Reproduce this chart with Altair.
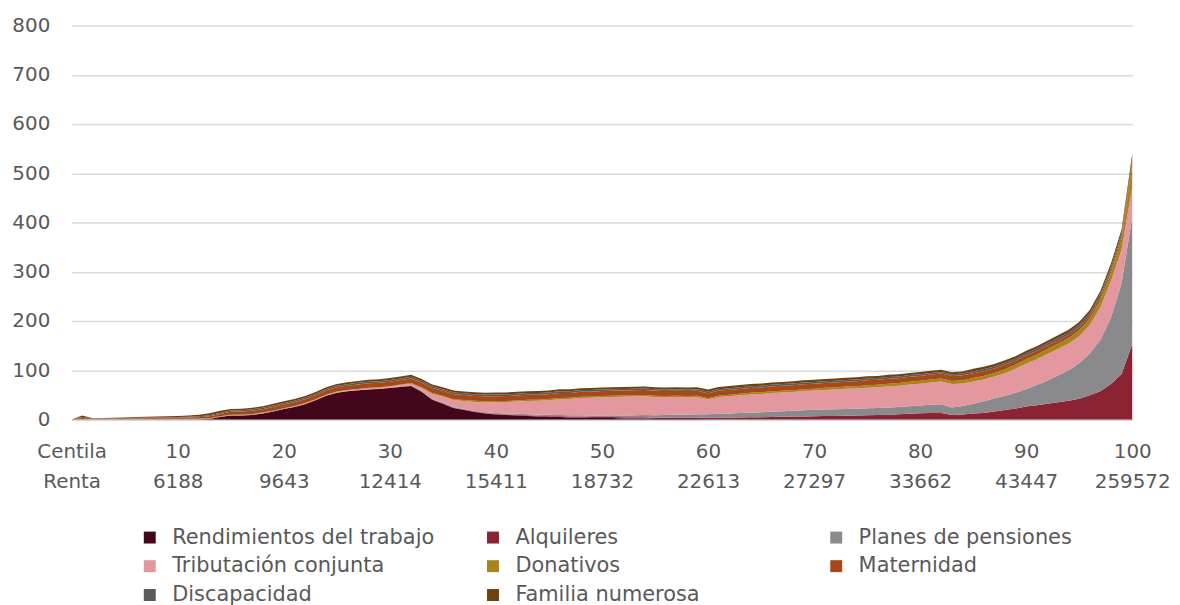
import altair as alt
import pandas as pd

# ---------------- data ----------------
centiles = list(range(101))

series_names = [
    "Rendimientos del trabajo", "Alquileres", "Planes de pensiones",
    "Tributación conjunta", "Donativos", "Maternidad",
    "Discapacidad", "Familia numerosa",
]
series_colors = ["#43061A", "#8B2332", "#8A8A8C", "#E3979F",
                 "#A8841A", "#A84817", "#5A5A5A", "#70400F"]

rendimientos = ([0] * 13 +
    [1, 5, 8, 8, 9, 12, 16, 21, 25, 31, 39, 48, 54, 57, 59, 61, 62, 64, 66, 68] +
    [56, 40, 32, 23, 19, 15, 12, 10, 9, 8, 7, 6, 5, 5, 4, 4, 3, 3, 3, 2, 2, 2,
     1, 1, 1, 1, 1, 0.5] +
    [0.5] * 10 + [0.3] * 10 + [0] * 20)

alquileres = ([0] + [0.2] * 30 +
    [0.5, 0.5, 0.5, 0.6, 0.7, 0.8, 0.9, 1, 1, 1] +
    [1.1, 1.2, 1.3, 1.4, 1.5, 1.6, 1.7, 1.8, 1.9, 2] +
    [2.1, 2.2, 2.3, 2.4, 2.5, 2.6, 2.7, 2.8, 2.9, 3] +
    [3.2, 3.4, 3.6, 3.8, 4.1, 4.4, 4.8, 5.2, 5.6, 6] +
    [6.4, 6.8, 7.2, 7.7, 8.2, 8.8, 9.4, 10, 11, 12] +
    [13, 13, 9, 10, 12, 13, 16, 19, 22, 26, 29, 32, 35, 38, 42, 49, 57, 72, 92, 153])

planes = ([0] + [0.3] * 30 +
    [0.8, 1, 1.1, 1.2, 1.3, 1.4, 1.5, 1.6, 1.8, 2] +
    [2.1, 2.2, 2.3, 2.4, 2.5, 2.6, 2.7, 2.8, 2.9, 3] +
    [3.4, 3.8, 4.2, 4.6, 5, 5.4, 5.8, 6.2, 6.6, 7] +
    [7.6, 8.2, 8.8, 9.4, 10, 10.6, 11.2, 11.8, 12.4, 13] +
    [13.2, 13.4, 13.6, 13.8, 14, 14.2, 14.6, 15, 15.5, 16] +
    [17, 18, 15, 17, 20, 24, 27, 29, 32, 36, 41, 47, 54, 62, 72, 85, 105, 135, 185, 258])

tributacion = ([0] +
    [0.3, 0.3, 0.3, 0.3, 0.4, 0.4, 0.4, 0.4, 0.5, 0.5, 0.5, 0.5, 0.6, 0.6, 0.6, 0.7,
     0.7, 0.8, 0.8, 0.9, 0.9, 1, 1, 1] +
    [1.5, 1.6, 1.8, 2, 2, 2.2, 2.5] +
    [3, 6, 10, 12, 14, 16, 18, 20, 22, 23, 25, 27, 28, 30, 32, 33, 35, 36, 37, 37,
     38, 38, 38, 37, 36, 36, 35, 35, 30] +
    [34, 35, 36, 37, 37, 38, 38, 38, 39, 39, 40, 40, 41, 41, 42, 42, 43, 43, 44, 44] +
    [45, 46, 48, 46, 45, 44, 44, 46, 49, 51, 52, 54, 54, 54, 55, 58, 66, 74, 68, 60])

donativos = ([0] +
    [0.2, 0.2, 0.2, 0.2, 0.2, 0.3, 0.3, 0.3, 0.3, 0.3, 0.4, 0.4, 0.4, 0.4, 0.4,
     0.5, 0.5, 0.5, 0.5, 0.5, 0.6, 0.6, 0.6, 0.6, 0.6, 0.7, 0.7, 0.7, 0.8, 0.8] +
    [1, 1.2, 1.5, 1.8, 2, 2, 2, 2.1, 2.1, 2.2, 2.2, 2.2, 2.3, 2.3, 2.3, 2.4, 2.4,
     2.4, 2.4, 2.5, 2.5, 2.5, 2.5, 2.5, 2.5, 2.5, 2.5, 2.5, 2.5, 2.5] +
    [2.7, 2.9, 3, 3.2, 3.4, 3.5, 3.7, 3.8, 3.9, 4, 4.2, 4.4, 4.6, 4.8, 5, 5.1, 5.3,
     5.5, 5.7, 6] +
    [6, 6, 6, 6.5, 7, 7, 7.5, 8, 8, 9, 9.5, 10, 10.5, 11, 12, 13, 15, 17, 22, 45])

maternidad = ([0, 2] +
    [0.5, 0.8, 1, 1.2, 1.4, 1.6, 1.8, 2, 2.2, 2.6, 3.2, 4, 4.5] +
    [6, 6.5, 7, 7, 7.5, 7.5, 8, 8, 8, 8.5, 8.5, 8.5, 9, 9, 9, 9, 9, 9.5, 9.5, 10] +
    [10] * 52 +
    [9, 9, 8, 8, 7.5, 7, 7, 6.5, 6, 6, 6, 6, 6, 8])

discapacidad = ([0, 2] +
    [0.3, 0.5, 0.6, 0.7, 0.8, 0.9, 1, 1.1, 1.2, 1.4, 1.6, 2, 2.2] +
    [2.5, 2.6, 2.7, 2.8, 2.9, 3, 3, 3.1, 3.1, 3.1, 3.2, 3.2, 3.3, 3.3, 3.4, 3.4,
     3.5, 3.5, 3.5, 3.5] +
    [3.5] * 50 +
    [3.8, 4, 4, 4, 4.2, 4.4, 4.6, 4.8, 5, 5, 5, 5.2, 5.5, 6, 6, 7])

familia = ([0, 3] +
    [0.5, 0.7, 0.9, 1.1, 1.3, 1.5, 1.7, 1.9, 2.1, 2.5, 3.2, 4, 4.5] +
    [3, 3.1, 3.2, 3.3, 3.4, 3.5, 3.5, 3.6, 3.6, 3.7, 3.7, 3.8, 3.8, 3.9, 3.9, 4,
     4, 4, 4, 4] +
    [4] * 26 + [4.5] * 24 +
    [5, 5, 5, 5, 5, 5, 5, 5, 5.5, 5.5, 6, 6, 6.5, 7, 7, 8])

series_values = [rendimientos, alquileres, planes, tributacion,
                 donativos, maternidad, discapacidad, familia]

tick_values = [0, 10, 20, 30, 40, 50, 60, 70, 80, 90, 100]
centila_labels = ["Centila", "10", "20", "30", "40", "50", "60", "70", "80", "90", "100"]
renta_labels = ["Renta", "6188", "9643", "12414", "15411", "18732", "22613",
                "27297", "33662", "43447", "259572"]
y_ticks = [0, 100, 200, 300, 400, 500, 600, 700, 800]

# ---------------- table ----------------
rows = []
for i, (name, vals) in enumerate(zip(series_names, series_values)):
    assert len(vals) == 101, (name, len(vals))
    for c, v in zip(centiles, vals):
        rows.append({"centila": c, "serie": name, "valor": v, "orden": i})
df = pd.DataFrame(rows)

label_expr = ("[" + ",".join(f"['{a}','{b}']" for a, b in zip(centila_labels, renta_labels))
              + "][round(datum.value/10)]")

FONT = "DejaVu Sans"
TXT = "#595959"

chart = alt.Chart(df).mark_area(interpolate="linear").encode(
    x=alt.X("centila:Q",
            scale=alt.Scale(domain=[0, 100], nice=False, zero=False),
            axis=alt.Axis(values=tick_values, labelExpr=label_expr, title=None,
                          grid=False, ticks=False, domainColor="#D9D9D9", domainWidth=2,
                          labelFontSize=20, labelColor=TXT, labelFont=FONT,
                          labelPadding=22, labelLineHeight=30, labelFlush=False,
                          labelOverlap=False)),
    y=alt.Y("valor:Q", stack="zero",
            scale=alt.Scale(domain=[0, 800], nice=False),
            axis=alt.Axis(values=y_ticks, title=None, domain=False, ticks=False,
                          gridColor="#D9D9D9", gridWidth=1.5,
                          labelFontSize=20, labelColor=TXT, labelFont=FONT,
                          labelPadding=22)),
    color=alt.Color("serie:N",
                    scale=alt.Scale(domain=series_names, range=series_colors),
                    legend=alt.Legend(title=None, orient="none", legendX=68, legendY=504,
                                      direction="horizontal",
                                      columns=3, gridAlign="all", columnPadding=48,
                                      rowPadding=7, symbolType="square", symbolSize=144,
                                      symbolStrokeWidth=0, labelFontSize=21,
                                      labelColor=TXT, labelFont=FONT, labelOffset=12,
                                      labelLimit=400)),
    order=alt.Order("orden:Q", sort="ascending"),
).properties(
    width=1066, height=396,
    padding={"left": 64, "top": 16, "right": 40, "bottom": 185},
    autosize=alt.AutoSizeParams(type="none"),
    background="white",
).configure_view(stroke=None)

chart.save("out.html", embed_options={"renderer": "svg", "actions": False})
